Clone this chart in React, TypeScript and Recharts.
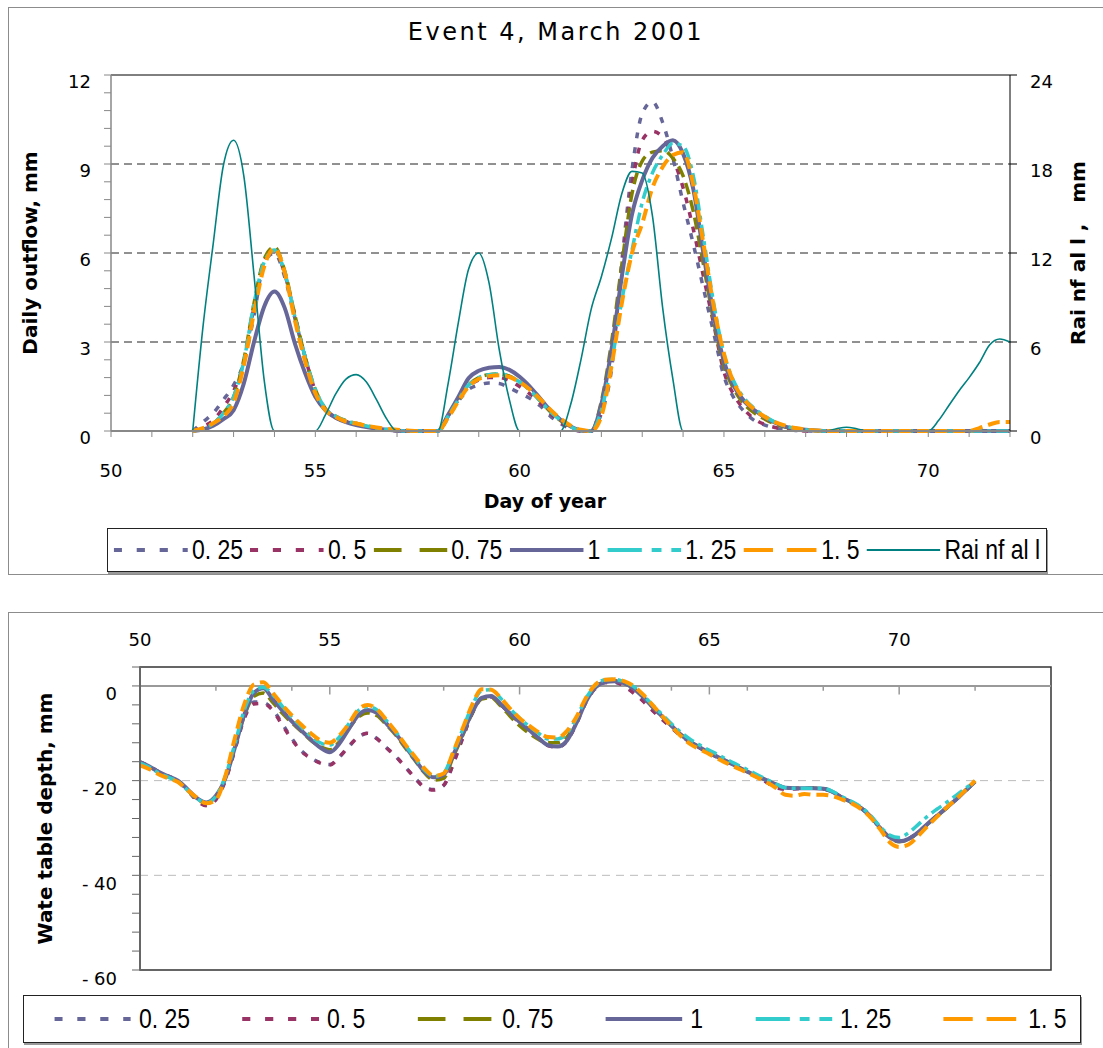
import React from 'react'
import {
  LineChart,
  Line,
  XAxis,
  YAxis,
  CartesianGrid,
  ReferenceLine,
  ReferenceArea,
  Legend,
  Label
} from 'recharts'

// ---- daily outflow + rainfall (upper chart), 6-hourly samples ----
const topDays = [
  52, 52.25, 52.5, 52.75, 53, 53.25, 53.5, 53.75, 54, 54.25, 54.5, 54.75,
  55, 55.25, 55.5, 55.75, 56, 56.25, 56.5, 56.75, 57, 57.25, 57.5, 57.75,
  58, 58.25, 58.5, 58.75, 59, 59.25, 59.5, 59.75, 60, 60.25, 60.5, 60.75,
  61, 61.25, 61.5, 61.75, 62, 62.25, 62.5, 62.75, 63, 63.25, 63.5, 63.75,
  64, 64.25, 64.5, 64.75, 65, 65.25, 65.5, 65.75, 66, 66.25, 66.5, 66.75,
  67, 67.25, 67.5, 67.75, 68, 68.25, 68.5, 68.75, 69, 69.25, 69.5, 69.75,
  70, 70.25, 70.5, 70.75, 71, 71.25, 71.5, 71.75, 72
]

const rainfall = [
  0, 7.0, 12.6, 17.9, 19.6, 17.2, 10.5, 3.4, 0, 0, 0, 0,
  0, 1.1, 2.5, 3.5, 3.8, 3.3, 2.1, 0.8, 0, 0, 0, 0,
  0, 3.2, 7.3, 10.9, 12.0, 10.0, 5.5, 2.1, 0, 0, 0, 0,
  0, 1.8, 4.8, 8.2, 10.4, 13.0, 16.0, 17.5, 17.4, 14.5, 8.3, 3.5,
  0, 0, 0, 0, 0, 0, 0, 0, 0, 0, 0, 0,
  0, 0, 0, 0.15, 0.25, 0.15, 0, 0, 0, 0, 0, 0,
  0, 0.7, 1.7, 2.7, 3.6, 4.6, 5.8, 6.2, 6.0
]

const outflow025 = [
  0, 0.3, 0.6, 1.05, 1.55, 2.3, 3.9, 5.7, 6.0, 5.2, 3.8, 2.5,
  1.35, 0.72, 0.45, 0.32, 0.23, 0.15, 0.09, 0.05, 0.02, 0, 0, 0,
  0, 0.45, 1.0, 1.4, 1.55, 1.62, 1.6, 1.45, 1.28, 1.1, 0.85, 0.5,
  0.25, 0.08, 0, 0, 0.6, 2.1, 5.7, 8.8, 10.7, 11.1, 10.4, 9.2,
  7.7, 6.3, 4.8, 3.3, 1.85, 1.1, 0.65, 0.35, 0.2, 0.1, 0.05, 0.02,
  0, 0, 0, 0, 0, 0, 0, 0, 0, 0, 0, 0,
  0, 0, 0, 0, 0, 0, 0, 0, 0
]

const outflow05 = [
  0, 0.15, 0.35, 0.8, 1.35, 2.3, 4.2, 5.75, 6.1, 5.3, 3.9, 2.5,
  1.35, 0.7, 0.45, 0.32, 0.23, 0.15, 0.08, 0.04, 0.01, 0, 0, 0,
  0, 0.5, 1.05, 1.5, 1.72, 1.8, 1.8, 1.7, 1.5, 1.25, 0.95, 0.6,
  0.3, 0.1, 0, 0, 0.7, 2.4, 5.5, 8.3, 9.8, 10.1, 9.9, 9.2,
  8.2, 6.8, 5.2, 3.6, 2.0, 1.2, 0.72, 0.4, 0.22, 0.12, 0.06, 0.03,
  0, 0, 0, 0, 0, 0, 0, 0, 0, 0, 0, 0,
  0, 0, 0, 0, 0, 0, 0, 0, 0
]

const outflow075 = [
  0, 0.08, 0.25, 0.6, 1.15, 2.4, 4.3, 5.8, 6.2, 5.4, 3.9, 2.5,
  1.4, 0.75, 0.5, 0.35, 0.26, 0.18, 0.1, 0.05, 0.02, 0, 0, 0,
  0, 0.5, 1.05, 1.55, 1.8, 1.9, 1.92, 1.85, 1.65, 1.38, 1.02, 0.65,
  0.35, 0.13, 0.02, 0, 1.0, 3.0, 5.6, 8.0, 9.1, 9.4, 9.45, 9.2,
  8.6, 7.4, 5.6, 3.7, 2.2, 1.4, 0.9, 0.6, 0.4, 0.24, 0.13, 0.07,
  0.03, 0.01, 0, 0, 0, 0, 0, 0, 0, 0, 0, 0,
  0, 0, 0, 0, 0, 0, 0, 0, 0
]

const outflow1 = [
  0, 0.05, 0.18, 0.4, 0.7, 1.6, 3.0, 4.2, 4.7, 4.15, 2.95, 1.95,
  1.15, 0.7, 0.45, 0.3, 0.2, 0.13, 0.08, 0.04, 0.01, 0, 0, 0,
  0, 0.55, 1.15, 1.78, 2.03, 2.13, 2.16, 2.06, 1.83, 1.5, 1.1, 0.7,
  0.38, 0.15, 0.02, 0, 0.9, 2.75, 5.2, 7.3, 8.45, 9.2, 9.6, 9.8,
  9.35, 8.15, 5.97, 3.9, 2.35, 1.5, 1.0, 0.7, 0.46, 0.28, 0.15, 0.08,
  0.04, 0.02, 0, 0, 0, 0, 0, 0, 0, 0, 0, 0,
  0, 0, 0, 0, 0, 0, 0, 0, 0
]

const outflow125 = [
  0, 0.08, 0.25, 0.6, 1.15, 2.35, 4.3, 5.7, 6.1, 5.35, 3.85, 2.5,
  1.4, 0.75, 0.5, 0.34, 0.25, 0.17, 0.1, 0.05, 0.02, 0, 0, 0,
  0, 0.5, 1.05, 1.55, 1.8, 1.9, 1.92, 1.85, 1.65, 1.38, 1.02, 0.66,
  0.36, 0.14, 0.02, 0, 0.7, 2.3, 4.4, 6.1, 7.7, 8.7, 9.3, 9.7,
  9.6, 8.6, 6.5, 4.3, 2.6, 1.65, 1.1, 0.75, 0.5, 0.3, 0.17, 0.09,
  0.04, 0.02, 0, 0, 0, 0, 0, 0, 0, 0, 0, 0,
  0, 0, 0, 0, 0, 0, 0, 0, 0
]

const outflow15 = [
  0, 0.1, 0.26, 0.5, 0.95, 2.2, 4.0, 5.55, 6.15, 5.35, 3.73, 2.35,
  1.28, 0.7, 0.47, 0.32, 0.25, 0.18, 0.12, 0.07, 0.04, 0.02, 0, 0,
  0, 0.45, 1.0, 1.5, 1.75, 1.85, 1.88, 1.82, 1.65, 1.4, 1.08, 0.72,
  0.42, 0.18, 0.04, 0, 0.5, 2.2, 4.3, 6.0, 7.0, 8.2, 8.9, 9.3,
  9.4, 8.3, 6.3, 4.2, 2.6, 1.6, 1.05, 0.72, 0.48, 0.3, 0.18, 0.1,
  0.05, 0.02, 0, 0, 0, 0, 0, 0, 0, 0, 0, 0,
  0, 0, 0, 0, 0, 0.1, 0.22, 0.3, 0.3
]

// ---- water table depth (lower chart) ----
const depthDays = [
  50, 50.25, 50.5, 50.75, 51, 51.25, 51.5, 51.75,
  52, 52.25, 52.5, 52.75, 53, 53.25, 53.5, 53.75, 54, 54.25, 54.5, 54.75,
  55, 55.25, 55.5, 55.75, 56, 56.25, 56.5, 56.75, 57, 57.25, 57.5, 57.75,
  58, 58.25, 58.5, 58.75, 59, 59.25, 59.5, 59.75, 60, 60.25, 60.5, 60.75,
  61, 61.25, 61.5, 61.75, 62, 62.25, 62.5, 62.75, 63, 63.25, 63.5, 63.75,
  64, 64.25, 64.5, 64.75, 65, 65.25, 65.5, 65.75, 66, 66.25, 66.5, 66.75,
  67, 67.25, 67.5, 67.75, 68, 68.25, 68.5, 68.75, 69, 69.25, 69.5, 69.75,
  70, 70.25, 70.5, 70.75, 71, 71.25, 71.5, 71.75, 72
]

const depth025 = [
  -16.1, -17.0, -18.2, -19.1, -20.0, -22.0, -24.1, -25.2,
  -23.9, -19.8, -13.3, -6.5, -3.4, -3.5, -5.0, -8.0, -11.1, -13.7, -15.2, -16.2,
  -16.6, -15.0, -12.8, -10.8, -10.0, -11.2, -13.1, -15.0, -17.2, -19.5, -21.4, -21.9,
  -21.0, -16.5, -11.0, -5.8, -2.6, -2.3, -3.9, -5.9, -7.7, -9.4, -11.1, -12.6,
  -12.9, -11.6, -7.9, -3.4, -0.4, 0.7, 0.8, 0.0, -1.4, -3.1, -5.1, -7.0,
  -8.8, -10.5, -11.9, -13.1, -14.2, -15.2, -16.2, -17.2, -18.2, -19.2, -20.3, -21.4,
  -21.8, -21.7, -21.6, -21.6, -21.7, -22.4, -23.6, -24.6, -25.8, -27.6, -30.0, -32.0,
  -32.8, -32.3, -30.9, -29.1, -27.4, -25.7, -24.0, -22.1, -20.2
]

const depth05 = [
  -16.1, -17.0, -18.2, -19.1, -20.0, -22.0, -24.2, -25.3,
  -24.0, -20.0, -13.5, -6.8, -3.8, -3.7, -5.2, -8.3, -11.3, -13.8, -15.3, -16.3,
  -16.7, -15.0, -12.8, -10.8, -10.0, -11.2, -13.1, -15.0, -17.2, -19.5, -21.5, -22.0,
  -21.0, -16.5, -11.0, -5.8, -2.6, -2.3, -3.9, -5.9, -7.7, -9.4, -11.1, -12.6,
  -12.9, -11.6, -7.9, -3.4, -0.4, 0.7, 0.8, 0.0, -1.5, -3.2, -5.2, -7.0,
  -8.8, -10.5, -11.9, -13.1, -14.2, -15.2, -16.2, -17.2, -18.2, -19.2, -20.3, -21.5,
  -21.8, -21.7, -21.6, -21.6, -21.7, -22.4, -23.6, -24.6, -25.8, -27.6, -30.0, -32.0,
  -32.8, -32.3, -30.9, -29.1, -27.4, -25.7, -24.0, -22.1, -20.2
]

const depth075 = [
  -16.3, -17.2, -18.4, -19.3, -20.2, -22.0, -23.9, -24.8,
  -23.5, -19.3, -12.8, -6.3, -2.2, -1.5, -3.5, -5.8, -7.8, -9.6, -11.5, -12.8,
  -13.5, -11.8, -9.0, -6.6, -5.7, -6.3, -8.3, -10.5, -13.2, -15.8, -18.4, -19.9,
  -19.5, -15.0, -10.5, -5.8, -2.8, -2.5, -4.2, -6.4, -8.4, -10.0, -11.3, -12.0,
  -12.0, -10.8, -7.3, -3.0, -0.1, 0.9, 1.1, 0.6, -0.5, -2.3, -4.4, -6.4,
  -8.4, -10.3, -11.8, -13.0, -14.1, -15.1, -16.1, -17.1, -18.1, -19.0, -19.9, -20.8,
  -21.5, -21.6, -21.6, -21.6, -21.7, -22.4, -23.6, -24.6, -25.8, -27.6, -30.0, -32.0,
  -32.9, -32.4, -31.0, -29.2, -27.5, -25.8, -24.0, -22.1, -20.2
]

const depth1 = [
  -16.1, -17.0, -18.2, -19.1, -20.0, -21.8, -23.7, -24.6,
  -23.2, -19.5, -13.0, -6.0, -1.5, -0.5, -2.8, -5.2, -7.5, -9.4, -11.3, -13.0,
  -14.0, -12.2, -9.1, -6.2, -5.1, -5.7, -8.0, -10.2, -12.9, -15.6, -18.2, -19.3,
  -18.8, -14.6, -10.2, -5.6, -2.5, -2.1, -3.8, -5.8, -7.6, -9.3, -11.0, -12.5,
  -12.8, -11.5, -7.8, -3.3, -0.3, 0.8, 1.0, 0.6, -0.5, -2.3, -4.4, -6.4,
  -8.4, -10.3, -11.8, -13.0, -14.1, -15.1, -16.1, -17.1, -18.1, -19.0, -19.9, -20.8,
  -21.5, -21.6, -21.6, -21.6, -21.7, -22.4, -23.6, -24.6, -25.8, -27.6, -30.0, -32.0,
  -32.8, -32.3, -30.9, -29.1, -27.4, -25.7, -24.0, -22.1, -20.2
]

const depth125 = [
  -16.3, -17.2, -18.4, -19.3, -20.2, -22.0, -23.8, -24.7,
  -23.3, -19.0, -12.2, -5.0, -1.0, -0.3, -1.9, -4.3, -6.6, -8.6, -10.6, -12.0,
  -12.5, -10.8, -8.0, -5.2, -4.4, -5.1, -7.4, -9.8, -12.6, -15.3, -17.8, -19.1,
  -18.4, -14.0, -9.2, -4.2, -1.0, -0.8, -2.6, -4.8, -6.8, -8.5, -10.0, -11.2,
  -11.2, -10.0, -6.7, -2.6, 0.1, 1.3, 1.4, 0.9, -0.1, -1.9, -4.0, -6.0,
  -8.0, -9.8, -11.3, -12.5, -13.6, -14.6, -15.7, -16.7, -17.7, -18.7, -19.7, -20.7,
  -21.5, -21.6, -21.6, -21.6, -21.6, -22.3, -23.4, -24.4, -25.6, -27.4, -29.7, -31.5,
  -32.0, -31.0, -29.3, -27.5, -26.0, -24.6, -23.1, -21.6, -20.1
]

const depth15 = [
  -16.8, -17.6, -18.7, -19.5, -20.3, -22.0, -23.6, -24.8,
  -24.0, -19.0, -11.0, -3.8, 0.3, 0.8, -1.5, -4.0, -6.2, -8.2, -10.0, -11.5,
  -12.0, -10.5, -8.0, -5.0, -4.0, -5.0, -7.3, -9.8, -12.5, -15.0, -17.5, -19.0,
  -18.5, -14.0, -9.0, -4.0, -0.7, -0.8, -2.5, -4.8, -6.8, -8.4, -9.8, -10.8,
  -10.9, -9.5, -6.5, -2.5, 0.3, 1.3, 1.4, 1.0, 0.0, -1.8, -4.0, -6.3,
  -8.5, -10.6, -12.3, -13.4, -14.4, -15.5, -16.5, -17.4, -18.3, -19.3, -20.3, -21.5,
  -23.0, -23.2, -22.8, -23.0, -23.0, -23.3, -24.0, -24.8, -26.0, -27.8, -30.3, -33.0,
  -34.0, -33.5, -31.7, -29.6, -27.6, -25.7, -23.9, -22.0, -20.0
]

// ---- axis ticks ----
const dayTicks = [50, 51, 52, 53, 54, 55, 56, 57, 58, 59, 60, 61, 62, 63, 64, 65, 66, 67, 68, 69, 70, 71, 72]
const dayLabels = [50, 55, 60, 65, 70]
const outflowTicks = [0, 0.6, 1.2, 1.8, 2.4, 3, 3.6, 4.2, 4.8, 5.4, 6, 6.6, 7.2, 7.8, 8.4, 9, 9.6, 10.2, 10.8, 11.4, 12]
const outflowLabels = [0, 3, 6, 9, 12]
const outflowGrid = [3, 6, 9]
const rainTicks = [0, 6, 12, 18, 24]
const depthTicks = [-60, -56, -52, -48, -44, -40, -36, -32, -28, -24, -20, -16, -12, -8, -4, 0, 4]
const depthLabels = [-60, -40, -20, 0]
const depthGrid = [-40, -20]
const depthMinorDays = [52, 54, 56, 58, 62, 64, 66, 68, 72]
const depthMajorDays = [55, 60, 65, 70]

const outflowRows = topDays.map((day, i) => ({
  day,
  q025: outflow025[i],
  q05: outflow05[i],
  q075: outflow075[i],
  q1: outflow1[i],
  q125: outflow125[i],
  q15: outflow15[i],
  rain: rainfall[i]
}))

const depthRows = depthDays.map((day, i) => ({
  day,
  q025: depth025[i],
  q05: depth05[i],
  q075: depth075[i],
  q1: depth1[i],
  q125: depth125[i],
  q15: depth15[i]
}))

// line styles for each scaling factor
const factorSeries = [
  { key: 'q025', name: '0. 25', color: '#666699', width: 3.5, dash: '6 9', keyDash: '10 18', keyWidth: 4 },
  { key: 'q05', name: '0. 5', color: '#993366', width: 3.5, dash: '6 9', keyDash: '10 18', keyWidth: 4 },
  { key: 'q075', name: '0. 75', color: '#808000', width: 3.5, dash: '12 6', keyDash: '34 22', keyWidth: 4 },
  { key: 'q1', name: '1', color: '#666699', width: 4, dash: undefined, keyDash: undefined, keyWidth: 4 },
  { key: 'q125', name: '1. 25', color: '#33CCCC', width: 3.5, dash: '12 5 4 5', keyDash: '42 12 12 12', keyWidth: 4 },
  { key: 'q15', name: '1. 5', color: '#FF9900', width: 4, dash: '12 6', keyDash: '36 17', keyWidth: 4 }
]
const rainSeries = { key: 'rain', name: 'Rai nf al l', color: '#008080', width: 1.6, dash: undefined, keyDash: undefined, keyWidth: 2 }

const TICK_FONT = "'DejaVu Sans', Verdana, sans-serif"
const KEY_FONT = "'Liberation Sans', Arial, sans-serif"
const KEY_SQUEEZE = 0.82

const isOneOf = (list: number[], v: number) => list.some((t) => Math.abs(t - v) < 1e-6)

function DayTick({ x, y, payload }: any) {
  if (!isOneOf(dayLabels, payload.value)) return null
  return (
    <text x={x} y={y + 31} textAnchor="middle" dominantBaseline="central" fontFamily={TICK_FONT} fontSize={18} fill="#000">
      {payload.value}
    </text>
  )
}

function OutflowTick({ x, y, payload }: any) {
  if (!isOneOf(outflowLabels, payload.value)) return null
  return (
    <text x={x - 11} y={y + 6} textAnchor="end" dominantBaseline="central" fontFamily={TICK_FONT} fontSize={18} fill="#000">
      {Math.round(payload.value)}
    </text>
  )
}

function RainTick({ x, y, payload }: any) {
  return (
    <text x={x + 11} y={y + 6} textAnchor="start" dominantBaseline="central" fontFamily={TICK_FONT} fontSize={18} fill="#000">
      {payload.value}
    </text>
  )
}

function DepthDayTick({ x, y, payload }: any) {
  return (
    <text x={x} y={y - 28} textAnchor="middle" dominantBaseline="central" fontFamily={TICK_FONT} fontSize={18} fill="#000">
      {payload.value}
    </text>
  )
}

function DepthTick({ x, y, payload }: any) {
  if (!isOneOf(depthLabels, payload.value)) return null
  const v = payload.value
  return (
    <text x={x - 13} y={y + 8} textAnchor="end" dominantBaseline="central" fontFamily={TICK_FONT} fontSize={18} fill="#000" style={{ whiteSpace: 'pre' }}>
      {v < 0 ? `- ${-v}` : `${v}`}
    </text>
  )
}

// rotated axis title, placed relative to the axis box
const sideTitle = (text: string, dx: number) => (props: any) => {
  const vb = props.viewBox || {}
  const cx = (vb.x ?? 0) + dx
  const cy = (vb.y ?? 0) + (vb.height ?? 0) / 2
  return (
    <text
      x={cx}
      y={cy}
      transform={`rotate(-90 ${cx} ${cy})`}
      textAnchor="middle"
      dominantBaseline="central"
      fontFamily={TICK_FONT}
      fontWeight="bold"
      fontSize={20}
      fill="#000"
      style={{ whiteSpace: 'pre' }}
    >
      {text}
    </text>
  )
}

const bottomTitle = (text: string, cx: number, dy: number) => (props: any) => {
  const vb = props.viewBox || {}
  return (
    <text x={cx} y={(vb.y ?? 0) + dy} textAnchor="middle" dominantBaseline="central" fontFamily={TICK_FONT} fontWeight="bold" fontSize={19} fill="#000">
      {text}
    </text>
  )
}

// boxed key; the row is squeezed horizontally to get a narrow face
function SeriesKey({ items, fontSize, sample, gap, padLeft, textGap }: any) {
  const k = KEY_SQUEEZE
  return (
    <div
      style={{
        display: 'flex',
        alignItems: 'center',
        width: '100%',
        height: '100%',
        boxSizing: 'border-box',
        border: '1px solid #222',
        boxShadow: '1px 2px 0 #999',
        background: '#fff',
        overflow: 'hidden'
      }}
    >
      <div
        style={{
          display: 'flex',
          alignItems: 'center',
          flexShrink: 0,
          paddingLeft: padLeft / k,
          gap: gap / k,
          transform: `scaleX(${k})`,
          transformOrigin: 'left center',
          fontFamily: KEY_FONT,
          fontSize,
          color: '#000',
          whiteSpace: 'pre'
        }}
      >
        {items.map((s: any) => (
          <div key={s.key} style={{ display: 'flex', alignItems: 'center' }}>
            <svg width={sample / k} height={10} style={{ display: 'block' }}>
              <line x1={0} y1={5} x2={sample / k} y2={5} stroke={s.color} strokeWidth={s.keyWidth} strokeDasharray={s.keyDash} />
            </svg>
            <span style={{ marginLeft: textGap / k, lineHeight: 1 }}>{s.name}</span>
          </div>
        ))}
      </div>
    </div>
  )
}

function OutflowChart() {
  return (
    <LineChart width={1103} height={590} data={outflowRows} margin={{ top: 75, right: 0, left: 0, bottom: 109 }}>
      <CartesianGrid yAxisId="left" vertical={false} horizontalValues={outflowGrid} stroke="#222" strokeDasharray="8 5" />
      <XAxis
        dataKey="day"
        type="number"
        domain={[50, 72]}
        ticks={dayTicks}
        interval={0}
        height={50}
        tickSize={6}
        tick={<DayTick />}
        tickLine={{ stroke: '#888' }}
        axisLine={{ stroke: '#888', strokeWidth: 2 }}
      >
        <Label content={bottomTitle('Day of year', 545, 70)} />
      </XAxis>
      <YAxis
        yAxisId="left"
        domain={[0, 12]}
        ticks={outflowTicks}
        interval={0}
        width={111}
        tickSize={7}
        tick={<OutflowTick />}
        tickLine={{ stroke: '#888' }}
        axisLine={{ stroke: '#888', strokeWidth: 1.5 }}
      >
        <Label content={sideTitle('Daily outflow, mm', 30)} />
      </YAxis>
      <YAxis
        yAxisId="right"
        orientation="right"
        domain={[0, 24]}
        ticks={rainTicks}
        interval={0}
        width={93}
        tickSize={7}
        tick={<RainTick />}
        tickLine={{ stroke: '#000' }}
        axisLine={{ stroke: '#000' }}
      >
        <Label content={sideTitle('Rai nf al l ,   mm', 68)} />
      </YAxis>
      <ReferenceLine yAxisId="left" y={12} stroke="#000" />
      {factorSeries.map((s) => (
        <Line
          key={s.key}
          yAxisId="left"
          type="monotone"
          dataKey={s.key}
          name={s.name}
          stroke={s.color}
          strokeWidth={s.width}
          strokeDasharray={s.dash}
          dot={false}
          activeDot={false}
          isAnimationActive={false}
        />
      ))}
      <Line
        yAxisId="right"
        type="monotone"
        dataKey={rainSeries.key}
        name={rainSeries.name}
        stroke={rainSeries.color}
        strokeWidth={rainSeries.width}
        dot={false}
        activeDot={false}
        isAnimationActive={false}
      />
      <Legend
        layout="vertical"
        verticalAlign="middle"
        align="center"
        wrapperStyle={{ left: 107, top: 528, width: 940, height: 44 }}
        content={() => (
          <SeriesKey items={[...factorSeries, rainSeries]} fontSize={28} sample={74} gap={7} padLeft={6} textGap={4} />
        )}
      />
    </LineChart>
  )
}

function DepthChart() {
  return (
    <LineChart width={1103} height={448} data={depthRows} margin={{ top: 22, right: 52, left: 0, bottom: 78 }}>
      <CartesianGrid vertical={false} horizontalValues={depthGrid} stroke="#bbb" strokeDasharray="8 6" />
      <ReferenceArea x1={50} x2={74} y1={-60} y2={4} fill="none" stroke="#333" strokeWidth={1.5} />
      <XAxis
        dataKey="day"
        type="number"
        orientation="top"
        domain={[50, 74]}
        ticks={dayLabels}
        interval={0}
        height={45}
        tickSize={0}
        tickMargin={0}
        tick={<DepthDayTick />}
        tickLine={false}
        axisLine={false}
      />
      <YAxis
        domain={[-60, 4]}
        ticks={depthTicks}
        interval={0}
        width={140}
        tickSize={8}
        tick={<DepthTick />}
        tickLine={{ stroke: '#666' }}
        axisLine={{ stroke: '#666', strokeWidth: 2 }}
      >
        <Label content={sideTitle('Wate table depth, mm', 45)} />
      </YAxis>
      <ReferenceLine y={0} stroke="#999" strokeWidth={2} />
      {depthMinorDays.map((d) => (
        <ReferenceLine key={`m${d}`} segment={[{ x: d, y: 0 }, { x: d, y: -1 }]} stroke="#999" strokeWidth={1.5} />
      ))}
      {depthMajorDays.map((d) => (
        <ReferenceLine key={`M${d}`} segment={[{ x: d, y: 0 }, { x: d, y: -1.8 }]} stroke="#999" strokeWidth={1.5} />
      ))}
      {factorSeries.map((s) => (
        <Line
          key={s.key}
          type="monotone"
          dataKey={s.key}
          name={s.name}
          stroke={s.color}
          strokeWidth={s.width}
          strokeDasharray={s.dash}
          dot={false}
          activeDot={false}
          isAnimationActive={false}
        />
      ))}
      <Legend
        layout="vertical"
        verticalAlign="middle"
        align="center"
        wrapperStyle={{ left: 23, top: 395, width: 1058, height: 48 }}
        content={() => <SeriesKey items={factorSeries} fontSize={28} sample={77} gap={52} padLeft={30} textGap={8} />}
      />
    </LineChart>
  )
}

export default function App() {
  return (
    <div style={{ position: 'absolute', left: 0, top: 0, width: 1103, height: 1048, overflow: 'hidden', background: '#fff' }}>
      <div style={{ position: 'absolute', left: 8, top: 7, width: 1110, height: 568, border: '1.5px solid #8c8c8c', boxSizing: 'border-box' }} />
      <div style={{ position: 'absolute', left: 8, top: 612, width: 1110, height: 460, border: '1.5px solid #8c8c8c', boxSizing: 'border-box' }} />
      <div
        style={{
          position: 'absolute',
          left: 0,
          top: 18,
          width: 1112,
          textAlign: 'center',
          fontFamily: TICK_FONT,
          fontSize: 24,
          letterSpacing: 2.5,
          color: '#000'
        }}
      >
        Event 4, March 2001
      </div>
      <div style={{ position: 'absolute', left: 0, top: 0 }}>
        <OutflowChart />
      </div>
      <div style={{ position: 'absolute', left: 0, top: 600 }}>
        <DepthChart />
      </div>
    </div>
  )
}
